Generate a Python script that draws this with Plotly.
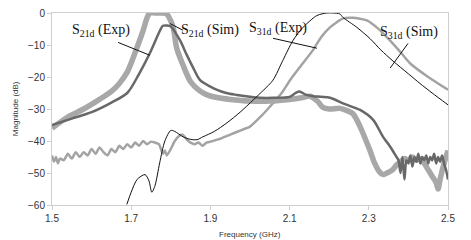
import plotly.graph_objects as go

# S21d (Exp) - thick light gray
s21e_f = [1.50, 1.54, 1.58, 1.62, 1.65, 1.67, 1.69, 1.705, 1.72, 1.73, 1.74, 1.747, 1.76, 1.78, 1.79, 1.80,
          1.806, 1.815, 1.83, 1.85, 1.87, 1.89, 1.92, 1.95, 2.0, 2.05, 2.10, 2.13, 2.152, 2.17, 2.184, 2.20,
          2.227, 2.245, 2.26, 2.278, 2.29, 2.303, 2.315, 2.328, 2.336, 2.346, 2.36, 2.37, 2.38, 2.39, 2.40,
          2.41, 2.42, 2.43, 2.44, 2.45, 2.46, 2.47, 2.475, 2.48, 2.49, 2.50]
s21e_db = [-36, -32.5, -30, -27, -24.5, -22, -18.5, -14, -9, -5.5, -1.5, 0, 0, 0, -0.3, -2.5,
           -4.5, -11, -16, -21.5, -24, -25.5, -26.5, -27, -27.5, -27.5, -27, -26.5, -26, -27.5, -29.5, -30,
           -29.8, -30.5, -31.5, -35.5, -39, -43, -47, -49.8, -50.5, -50, -49, -47.5, -46.5, -45.5, -46,
           -45, -46, -45.5, -47, -49, -51, -53, -55, -52, -47, -43]

# S21d (Sim) - dark gray
s21s_f = [1.50, 1.55, 1.60, 1.65, 1.69, 1.72, 1.747, 1.773, 1.78, 1.79, 1.80, 1.823, 1.84, 1.856, 1.874,
          1.90, 1.917, 1.94, 1.967, 2.0, 2.025, 2.06, 2.10, 2.115, 2.125, 2.14, 2.16, 2.18, 2.202, 2.24,
          2.278, 2.311, 2.336, 2.354, 2.371, 2.375, 2.38, 2.385, 2.39, 2.395, 2.40, 2.405, 2.41, 2.415,
          2.42, 2.425, 2.43, 2.435, 2.44, 2.445, 2.45, 2.455, 2.46, 2.465, 2.47, 2.475, 2.48, 2.485, 2.49,
          2.495, 2.50]
s21s_db = [-35, -33, -31, -28, -25, -19, -12.6, -5.4, -4, -3.9, -4.2, -8.5, -13, -17, -21,
           -23, -24, -25, -25.6, -26.2, -26.5, -26.5, -26.2, -25, -24.5, -25.5, -26, -26.2, -26.5, -28.5,
           -30.3, -33.4, -38.7, -41.8, -45.2, -46, -50, -45, -52, -46, -47, -44.5, -48, -45,
           -46.5, -44, -47, -45, -46, -44.5, -47, -45, -46, -44, -47, -45, -46.5, -44.5, -47,
           -49, -52]

# S31d (Exp) - thin black
s31e_f = [1.689, 1.70, 1.715, 1.735, 1.745, 1.752, 1.76, 1.772, 1.785, 1.80, 1.81, 1.831, 1.85, 1.866,
          1.881, 1.91, 1.942, 1.975, 2.008, 2.035, 2.058, 2.083, 2.109, 2.134, 2.169, 2.194, 2.21, 2.227,
          2.235, 2.27, 2.303, 2.33, 2.361, 2.40, 2.429, 2.46, 2.50]
s31e_db = [-59.8, -56, -52, -50.5, -52.5, -56, -54, -46.8, -40, -36.7, -37, -38.7, -39.5, -39.6,
           -38.7, -37, -34.3, -31, -27.2, -24, -21, -14.8, -8.5, -4.5, -0.8, 0, 0, -0.3,
           -1.4, -4.5, -8, -11.5, -15, -19, -22, -25, -28.7]

# S31d (Sim) - medium gray
s31s_f = [1.50, 1.505, 1.51, 1.515, 1.52, 1.53, 1.54, 1.55, 1.56, 1.57, 1.58, 1.59, 1.60, 1.61, 1.62,
          1.63, 1.64, 1.65, 1.66, 1.67, 1.68, 1.69, 1.70, 1.71, 1.72, 1.73, 1.74, 1.75, 1.76, 1.77, 1.78,
          1.785, 1.79, 1.80, 1.81, 1.82, 1.83, 1.84, 1.85, 1.86, 1.87, 1.88, 1.89, 1.90, 1.92, 1.95, 1.98,
          2.0, 2.03, 2.05, 2.08, 2.101, 2.126, 2.159, 2.18, 2.202, 2.235, 2.26, 2.295, 2.32, 2.346, 2.375,
          2.404, 2.45, 2.50]
s31s_db = [-44.5, -46.5, -45, -47, -45.5, -46, -44, -45.5, -43.5, -45, -43.5, -44.5, -42.5, -44, -42,
           -43.5, -44.5, -42.5, -43.5, -41.5, -42.5, -41, -42, -40.5, -41.5, -40, -41, -40.2, -40.5, -41, -44,
           -43, -44.5, -42.5, -40, -38.5, -38, -39.5, -40.5, -41, -40.5, -41.5, -40.5, -40.2, -39.5, -38, -36.5,
           -35.5, -32, -29.3, -25, -21, -16.9, -11.6, -7.5, -4.5, -1.7, -1.5, -2.3, -4.5, -7.6, -11.5,
           -15.7, -20, -24]

x_ticks = [1.5, 1.7, 1.9, 2.1, 2.3, 2.5]
x_tick_text = ["1.5", "1.7", "1.9", "2.1", "2.3", "2.5"]
y_ticks = [0, -10, -20, -30, -40, -50, -60]

fig = go.Figure()
fig.add_trace(go.Scatter(x=s31s_f, y=s31s_db, mode="lines",
                         line=dict(color="#a3a3a3", width=2.5, shape="spline", smoothing=0.6), name="S31d (Sim)"))
fig.add_trace(go.Scatter(x=s21e_f, y=s21e_db, mode="lines",
                         line=dict(color="#a8a8a8", width=5.5, shape="spline", smoothing=0.8), name="S21d (Exp)"))
fig.add_trace(go.Scatter(x=s21s_f, y=s21s_db, mode="lines",
                         line=dict(color="#686868", width=2.5, shape="spline", smoothing=0.8), name="S21d (Sim)"))
fig.add_trace(go.Scatter(x=s31e_f, y=s31e_db, mode="lines",
                         line=dict(color="#111111", width=1, shape="spline", smoothing=0.8), name="S31d (Exp)"))

labels = [
    ("S<sub>21d</sub> (Exp)", 1.624, -5.4, (1.667, -9.2, 1.747, -13.2)),
    ("S<sub>21d</sub> (Sim)", 1.899, -5.4, (1.831, -5.4, 1.798, -3.3)),
    ("S<sub>31d</sub> (Exp)", 2.071, -4.8, (2.058, -7.9, 2.169, -11.0)),
    ("S<sub>31d</sub> (Sim)", 2.401, -6.0, (2.399, -9.5, 2.354, -17.2)),
]
for txt, lx, ly, (x0, y0, x1, y1) in labels:
    fig.add_annotation(x=lx, y=ly, xref="x", yref="y", text=txt, showarrow=False,
                       font=dict(family="Liberation Serif", size=14, color="#111111"))
    fig.add_shape(type="line", x0=x0, y0=y0, x1=x1, y1=y1, xref="x", yref="y",
                  line=dict(color="#111111", width=1))

# axis titles placed as annotations
fig.add_annotation(x=-0.093, y=0.5, xref="paper", yref="paper", text="Magnitude (dB)", textangle=-90,
                   showarrow=False, xanchor="center", yanchor="middle",
                   font=dict(family="Liberation Sans", size=8, color="#333333"))
fig.add_annotation(x=0.5, y=-0.155, xref="paper", yref="paper", text="Frequency (GHz)",
                   showarrow=False, xanchor="center", yanchor="middle",
                   font=dict(family="Liberation Sans", size=8, color="#333333"))

axis_common = dict(showgrid=False, zeroline=False, showline=True, linecolor="#cfcfcf", linewidth=1,
                   mirror=True, ticks="outside", ticklen=4, tickcolor="#cfcfcf", automargin=False,
                   ticklabeloverflow="allow",
                   tickfont=dict(family="Liberation Sans", size=10, color="#333333"))
fig.update_xaxes(range=[1.5, 2.5], tickvals=x_ticks, ticktext=x_tick_text, **axis_common)
fig.update_yaxes(range=[-60, 0], tickvals=y_ticks, **axis_common)
# page body has an 8px default margin; compensate so the plot lands where the reference has it
fig.update_layout(width=463, height=232, margin=dict(l=44, r=23, t=5, b=35),
                  plot_bgcolor="white", paper_bgcolor="white", showlegend=False)
fig.write_html("out.html")
